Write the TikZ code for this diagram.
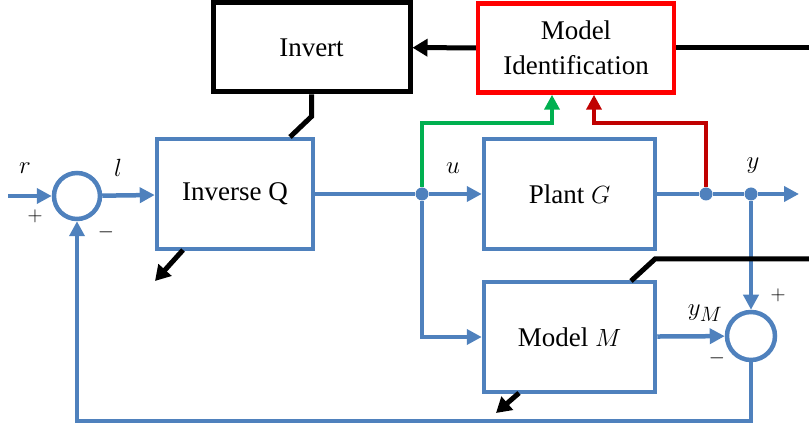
\documentclass[tikz,border=0pt]{standalone}
\usepackage{amsmath}
\usepackage{fontspec}
\setmainfont{Liberation Serif}
\usetikzlibrary{positioning,calc,arrows.meta}
\definecolor{officeblue}{rgb}{0.31, 0.506, 0.741}
\definecolor{officegreen}{rgb}{0.0, 0.69, 0.314}
\definecolor{darkred}{rgb}{0.753, 0.0, 0.0}

\tikzset{
	block/.style={rectangle,draw=officeblue,line width=4.5pt,align=center},
	sumnode/.style={circle,draw=officeblue,line width=4.5pt,minimum size=46pt,inner sep=0pt},
	dot/.style={circle,fill=officeblue,minimum size=13pt,inner sep=0pt},
	wire/.style={officeblue,line width=4.5pt},
	flow/.style={wire,-{Triangle[length=15pt,width=15pt]}},
	ctrl/.style={black,line width=5pt},
	ctrlarrow/.style={ctrl,-{Triangle[length=15pt,width=17pt]}},
	lbl/.style={inner sep=0pt,font=\fontsize{31}{36}\selectfont},
	sign/.style={inner sep=0pt,font=\fontsize{21}{24}\selectfont}
}

\begin{document}
\begin{tikzpicture}[x=1pt,y=-1pt,font=\fontsize{27}{35}\selectfont]
	\useasboundingbox (0,0) rectangle (809,427);

	\node[draw,line width=5pt,minimum width=197pt,minimum height=89pt] (inv) at (311.5,47.5) {Invert};
	\node[draw=red,line width=4.5pt,minimum width=196pt,minimum height=89pt,align=center] (mi) at (576,48) {Model\\Identification};

	\node[block,minimum width=156pt,minimum height=110pt] (invq) at (235,194) {Inverse Q};
	\node[block,minimum width=171pt,minimum height=110pt] (plant) at (569.5,194) {Plant $G$};
	\node[block,minimum width=171pt,minimum height=110pt] (model) at (569.5,337) {Model $M$};

	\node[sumnode] (s1) at (77,196) {};
	\node[sumnode,minimum size=48pt] (s2) at (751,336) {};

	\node[dot] (ju) at (422,194) {};
	\node[dot] (jy1) at (706,194) {};
	\node[dot] (jy2) at (751,194) {};

	\coordinate (rin) at (8,196);
	\coordinate (yout) at (799,194);
	\coordinate (fb) at (77,421);
	\coordinate (gk) at (552,123);
	\coordinate (rk) at (594,123);
	\coordinate (miin) at (809,48);
	\coordinate (mdin) at (809,259);
	\coordinate (mdk) at (655,259);

	% signal path
	\draw[flow] (rin) -- (s1);
	\draw[flow] (s1) -- (invq);
	\draw[wire] (invq) -- (ju);
	\draw[flow] (ju) -- (plant);
	\draw[wire] (plant) -- (jy1) -- (jy2);
	\draw[flow] (jy2) -- (yout);
	\draw[flow] (jy2) -- (s2);
	\draw[flow] (ju) |- (model);
	\draw[flow] (model) -- (s2);
	\draw[flow] (s2) |- (fb) -- (s1);

	% identification
	\draw[officegreen,line width=4.5pt,-{Triangle[length=15pt,width=15pt]}] (ju) |- (gk) -- (gk |- mi.south);
	\draw[darkred,line width=4.5pt,-{Triangle[length=15pt,width=15pt]}] (jy1) |- (rk) -- (rk |- mi.south);
	\draw[ctrl] (miin) -- (mi);
	\draw[ctrlarrow] (mi) -- (inv);
	\draw[ctrl] (inv.south) -- ++(0,22) -- (290,137);
	\draw[ctrlarrow] (183,250) -- ++(-28,31);
	\draw[ctrl] (mdin) -- (mdk) -- (631,281);
	\draw[ctrlarrow] (519,393) -- ++(-23,20);

	% labels
	\node[lbl] (rl) at (25,168) {$r$};
	\node[lbl] (ll) at (118,168) {$l$};
	\node[lbl] (ul) at (453,168) {$u$};
	\node[lbl] (yl) at (753,166) {$y$};
	\node[lbl] (yml) at (705,313) {$y_M$};
	\node[sign] (p1) at (35,216) {$+$};
	\node[sign] (m1) at (106,232) {$-$};
	\node[sign] (p2) at (778,295) {$+$};
	\node[sign] (m2) at (717,358) {$-$};
\end{tikzpicture}
\end{document}
